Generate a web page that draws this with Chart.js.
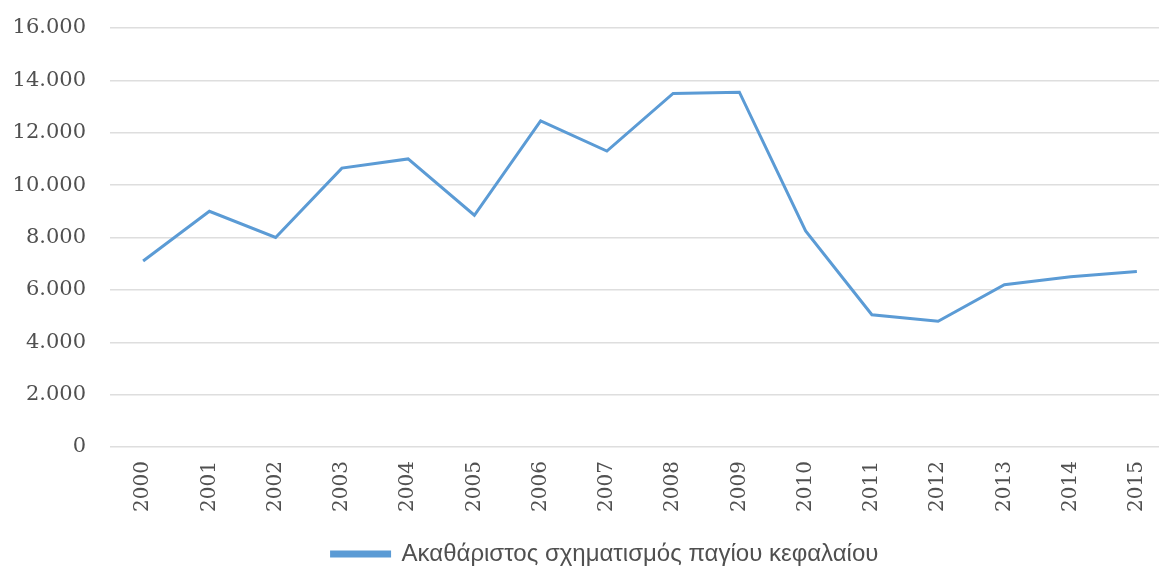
<!DOCTYPE html>
<html>
<head>
<meta charset="utf-8">
<script src="https://cdn.jsdelivr.net/npm/chart.js@4.4.1/dist/chart.umd.min.js"></script>
<style>
  html, body { margin: 0; padding: 0; background: #fff; overflow: hidden; width: 1159px; height: 567px; }
  #wrap { position: absolute; left: 0; top: 0; width: 1208px; height: 567px; }
</style>
</head>
<body>
<div id="wrap"><canvas id="c" width="1208" height="567"></canvas></div>
<script>
const categories = ['2000','2001','2002','2003','2004','2005','2006','2007','2008','2009','2010','2011','2012','2013','2014','2015'];
const seriesLabel = 'Ακαθάριστος σχηματισμός παγίου κεφαλαίου';
const seriesValues = [7100, 9000, 8000, 10650, 11000, 8850, 12450, 11300, 13500, 13550, 8250, 5050, 4800, 6200, 6500, 6700];
const yTickValues = [0, 2000, 4000, 6000, 8000, 10000, 12000, 14000, 16000];

function fmt(v) {
  return String(v).replace(/\B(?=(\d{3})+(?!\d))/g, '.');
}

const textColor = '#505050';
const gridColor = '#dedede';
const lineColor = '#5b9bd5';

const shiftLegend = {
  id: 'shiftLegend',
  afterLayout(chart) {
    const lg = chart.legend;
    if (lg) { lg.top += 9; lg.bottom += 9; lg.left += 20; lg.right += 20; }
  }
};

new Chart(document.getElementById('c'), {
  type: 'line',
  data: {
    labels: categories,
    datasets: [{
      label: seriesLabel,
      data: seriesValues,
      borderColor: lineColor,
      backgroundColor: lineColor,
      borderWidth: 3,
      pointRadius: 0,
      tension: 0,
      fill: false
    }]
  },
  plugins: [shiftLegend],
  options: {
    responsive: false,
    animation: false,
    layout: { padding: { top: 28, right: 38, left: 0, bottom: 0 } },
    plugins: {
      tooltip: { enabled: false },
      legend: {
        position: 'bottom',
        labels: {
          boxWidth: 58,
          boxHeight: 4,
          padding: 4,
          color: textColor,
          font: { family: 'Liberation Sans', size: 24 }
        }
      }
    },
    scales: {
      x: {
        offset: true,
        grid: { display: false, drawTicks: false },
        border: { display: false },
        ticks: {
          color: textColor,
          font: { family: 'DejaVu Serif', size: 20 },
          minRotation: 90,
          maxRotation: 90,
          padding: 14,
          autoSkip: false
        },
        afterFit: (s) => { s.height = 82; }
      },
      y: {
        min: 0,
        max: 16000,
        afterBuildTicks: (s) => { s.ticks = yTickValues.map(v => ({ value: v })); },
        grid: { color: gridColor, lineWidth: 1.5, drawTicks: false },
        border: { display: false },
        ticks: {
          color: textColor,
          font: { family: 'DejaVu Serif', size: 21 },
          padding: 24,
          callback: (v) => fmt(v)
        },
        afterFit: (s) => { s.width = 110; s.paddingTop = 0; s.paddingBottom = 0; }
      }
    }
  }
});
</script>
</body>
</html>
